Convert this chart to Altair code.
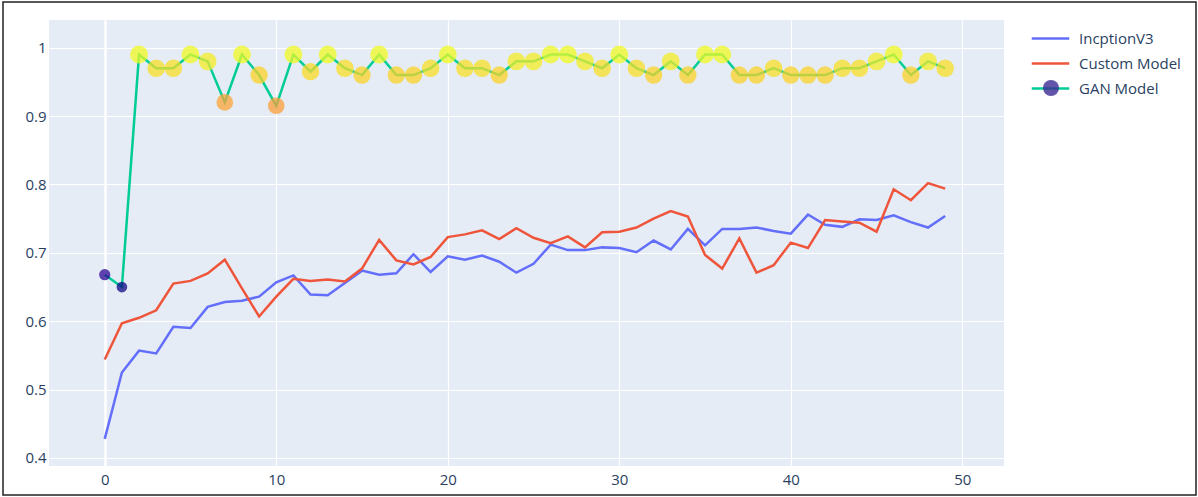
import altair as alt
import pandas as pd

epochs = list(range(50))

inception = [0.428, 0.525, 0.557, 0.553, 0.592, 0.590, 0.621, 0.628, 0.630, 0.636,
             0.657, 0.667, 0.639, 0.638, 0.656, 0.674, 0.668, 0.670, 0.698, 0.672,
             0.695, 0.690, 0.696, 0.687, 0.671, 0.684, 0.712, 0.704, 0.704, 0.708,
             0.707, 0.701, 0.718, 0.705, 0.735, 0.711, 0.735, 0.735, 0.737, 0.732,
             0.728, 0.756, 0.741, 0.738, 0.749, 0.748, 0.755, 0.745, 0.737, 0.754]

custom = [0.544, 0.597, 0.605, 0.616, 0.655, 0.659, 0.670, 0.690, 0.648, 0.607,
          0.636, 0.662, 0.659, 0.661, 0.658, 0.677, 0.719, 0.689, 0.683, 0.694,
          0.723, 0.727, 0.733, 0.720, 0.736, 0.722, 0.714, 0.724, 0.708, 0.730,
          0.731, 0.737, 0.750, 0.761, 0.753, 0.697, 0.677, 0.721, 0.671, 0.682,
          0.715, 0.707, 0.748, 0.746, 0.744, 0.731, 0.793, 0.777, 0.802, 0.794]

gan = [0.668, 0.650, 0.99, 0.97, 0.97, 0.99, 0.98, 0.92, 0.99, 0.96,
       0.915, 0.99, 0.965, 0.99, 0.97, 0.96, 0.99, 0.96, 0.96, 0.97,
       0.99, 0.97, 0.97, 0.96, 0.98, 0.98, 0.99, 0.99, 0.98, 0.97,
       0.99, 0.97, 0.96, 0.98, 0.96, 0.99, 0.99, 0.96, 0.96, 0.97,
       0.96, 0.96, 0.96, 0.97, 0.97, 0.98, 0.99, 0.96, 0.98, 0.97]

series_names = ["IncptionV3", "Custom Model", "GAN Model"]
line_colors = ["#636efa", "#ef553b", "#00cc96"]
x_ticks = [0, 10, 20, 30, 40, 50]
y_ticks = [0.4, 0.5, 0.6, 0.7, 0.8, 0.9, 1.0]

FONT = "Open Sans"
TXT = "#2a3f5f"

df_inc = pd.DataFrame({"epoch": epochs, "value": inception, "series": series_names[0]})
df_cus = pd.DataFrame({"epoch": epochs, "value": custom, "series": series_names[1]})
df_gan = pd.DataFrame({"epoch": epochs, "value": gan, "series": series_names[2],
                       "mk": "GAN Model"})

x_enc = alt.X("epoch:Q",
              scale=alt.Scale(domain=[-3.25, 52.43], nice=False, zero=False),
              axis=alt.Axis(values=x_ticks, title=None, labelPadding=6,
                            gridWidth={"condition": {"test": "datum.value === 0", "value": 2.5},
                                       "value": 1.2}))
y_enc = alt.Y("value:Q",
              scale=alt.Scale(domain=[0.3883, 1.0405], nice=False, zero=False),
              axis=alt.Axis(values=y_ticks, format=".1~f", title=None, labelPadding=3,
                            gridWidth=1.2))

color_enc = alt.Color("series:N",
                      scale=alt.Scale(domain=series_names, range=line_colors),
                      legend=alt.Legend(orient="none", legendX=992.5, legendY=9.5,
                                        title=None, symbolType="M-2.5,0H2.5",
                                        symbolSize=225, symbolStrokeWidth=2.5,
                                        labelFont=FONT, labelFontSize=15,
                                        labelColor=TXT, labelOffset=19.5,
                                        rowPadding=8, padding=0))


def line_layer(df):
    return alt.Chart(df).mark_line(strokeWidth=2.5).encode(
        x=x_enc, y=y_enc, color=color_enc)


points = alt.Chart(df_gan).mark_point(filled=True, opacity=0.75, strokeWidth=0).encode(
    x=x_enc, y=y_enc,
    fill=alt.Fill("value:Q", scale=alt.Scale(scheme="plasma", domain=[0.65, 0.99]),
                  legend=None),
    size=alt.Size("value:Q", scale=alt.Scale(domain=[0.65, 0.99], range=[115, 320]),
                  legend=None),
    shape=alt.Shape("mk:N", scale=alt.Scale(domain=["GAN Model"], range=["circle"]),
                    legend=alt.Legend(orient="none", legendX=994, legendY=60,
                                      title=None, labelExpr="''",
                                      symbolFillColor="#3b2a93", symbolOpacity=0.8,
                                      symbolStrokeWidth=0, symbolSize=256,
                                      labelFontSize=15, padding=0)),
)

frame = alt.Chart(pd.DataFrame({"f": [0]})).mark_rect(
    fill=None, stroke="#222222", strokeWidth=1.5, clip=False
).encode(x=alt.value(-46), x2=alt.value(1147), y=alt.value(-18), y2=alt.value(475))

chart = alt.layer(
    line_layer(df_inc), line_layer(df_cus), line_layer(df_gan), points, frame
).properties(
    width=955, height=446,
    autosize=alt.AutoSizeParams(type="none"),
    padding={"left": 49, "top": 20, "right": 194, "bottom": 31},
    background="white",
).configure_view(
    fill="#e5ecf6", stroke=None
).configure_axis(
    domain=False, ticks=False, gridColor="white",
    labelFont=FONT, labelFontSize=15, labelColor=TXT,
)

chart.save("out.html", embed_options={"renderer": "svg", "actions": False})
